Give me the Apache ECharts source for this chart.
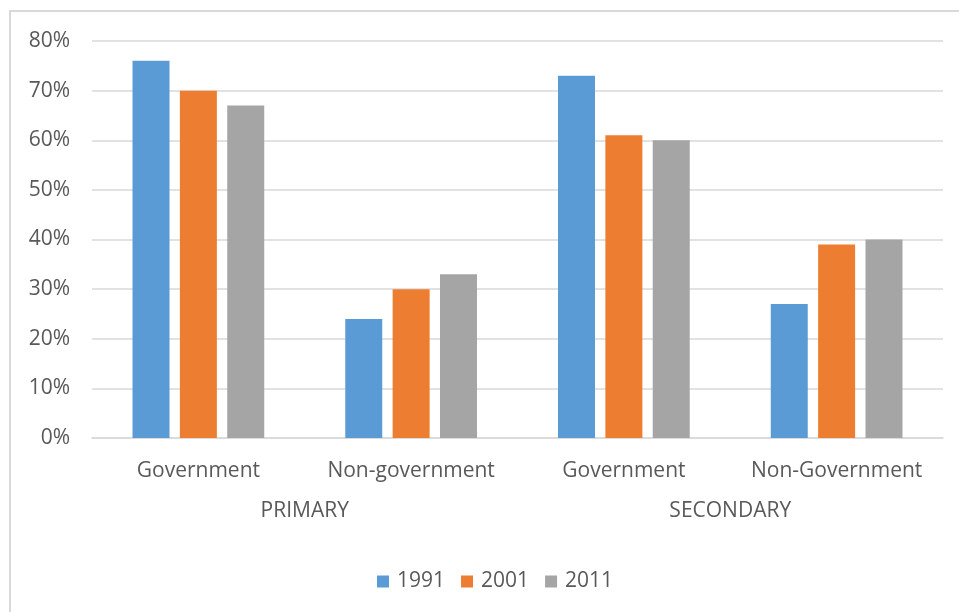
<!DOCTYPE html>
<html>
<head>
<meta charset="utf-8">
<script src="https://cdn.jsdelivr.net/npm/echarts@6/dist/echarts.min.js"></script>
<style>
html,body{margin:0;padding:0;background:#fff;}
#chart{width:959px;height:612px;}
</style>
</head>
<body>
<div id="chart"></div>
<script>
const categories = ['Government', 'Non-government', 'Government', 'Non-Government'];
const groups = ['PRIMARY', 'SECONDARY'];
const seriesNames = ['1991', '2001', '2011'];
const values1991 = [0.76, 0.24, 0.73, 0.27];
const values2001 = [0.70, 0.30, 0.61, 0.39];
const values2011 = [0.67, 0.33, 0.60, 0.40];
const colors = ['#5b9bd5', '#ed7d31', '#a5a5a5'];

const FONT = '"Open Sans", sans-serif';
const TXT = '#595959';
const chart = echarts.init(document.getElementById('chart'), null, {renderer: 'canvas'});
const allValues = [values1991, values2001, values2011];
chart.setOption({
  animation: false,
  textStyle: {fontFamily: FONT},
  graphic: [{
    type: 'rect',
    shape: {x: 10, y: 11, width: 1000, height: 700},
    style: {fill: 'none', stroke: '#d9d9d9', lineWidth: 2},
    silent: true
  }],
  grid: {left: 92, right: 16, top: 41, bottom: 174, containLabel: false},
  legend: {
    data: seriesNames,
    top: 566,
    left: 372,
    icon: 'rect',
    itemWidth: 12,
    itemHeight: 12,
    itemGap: 16,
    textStyle: {color: TXT, fontSize: 21, fontFamily: FONT, padding: [0, 0, 0, 3]}
  },
  xAxis: [{
    type: 'category',
    data: categories,
    position: 'bottom',
    axisLine: {show: true, lineStyle: {color: '#d9d9d9', width: 1.5}},
    axisTick: {show: false},
    axisLabel: {color: TXT, fontSize: 21, fontFamily: FONT, margin: 23, interval: 0}
  }, {
    type: 'category',
    data: groups,
    position: 'bottom',
    offset: 40,
    axisLine: {show: false},
    axisTick: {show: false},
    axisLabel: {color: TXT, fontSize: 21, fontFamily: FONT, margin: 23, interval: 0}
  }],
  yAxis: {
    type: 'value',
    min: 0,
    max: 0.8,
    interval: 0.1,
    axisLine: {show: false},
    axisTick: {show: false},
    splitLine: {lineStyle: {color: '#d9d9d9', width: 1.5}},
    axisLabel: {
      color: TXT, fontSize: 21, fontFamily: FONT, margin: 22,
      formatter: v => Math.round(v * 100) + '%'
    }
  },
  series: seriesNames.map((name, i) => ({
    name: name,
    type: 'bar',
    xAxisIndex: 0,
    data: allValues[i],
    barWidth: 37,
    barGap: '28%',
    itemStyle: {color: colors[i]}
  }))
});
</script>
</body>
</html>
